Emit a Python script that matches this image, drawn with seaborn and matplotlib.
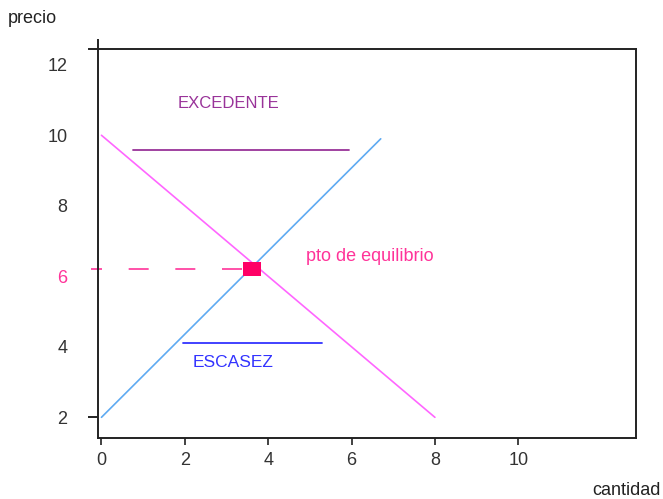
import numpy as np
import pandas as pd
import matplotlib
matplotlib.use("Agg")
import matplotlib.pyplot as plt
import seaborn as sns

# curve data
oferta_x = [0, 6.7]
oferta_y = [2, 9.9]
demanda_x = [0, 8]
demanda_y = [10, 2]
equilibrio_x = [3.62]
equilibrio_y = [6.2]
excedente_x = [0.75, 5.95]
excedente_y = [9.57, 9.57]
escasez_x = [1.95, 5.3]
escasez_y = [4.12, 4.12]
xticks = [0, 2, 4, 6, 8, 10]
yticks = [2, 4, 6, 8, 10, 12]

sns.set_style("white")
plt.rcParams['font.family'] = ['Liberation Sans', 'DejaVu Sans']

fig = plt.figure(figsize=(6.63, 4.99), dpi=100)
ax = fig.add_axes([0.148, 0.122, 0.811, 0.780])

df_of = pd.DataFrame({"x": oferta_x, "y": oferta_y})
df_de = pd.DataFrame({"x": demanda_x, "y": demanda_y})
sns.lineplot(data=df_of, x="x", y="y", ax=ax, color="#5eaaf2", linewidth=1.2)
sns.lineplot(data=df_de, x="x", y="y", ax=ax, color="#ff66ff", linewidth=1.2)

sns.lineplot(x=excedente_x, y=excedente_y, ax=ax, color="#993399", linewidth=1.3)
sns.lineplot(x=escasez_x, y=escasez_y, ax=ax, color="#3333ff", linewidth=1.3)

# dashed price line to the equilibrium
ax.plot([-0.25, equilibrio_x[0]], [equilibrio_y[0], equilibrio_y[0]],
        color="#ff3399", linewidth=1.2, linestyle=(5.4, (12, 16)), clip_on=False)
rect = [(-1.25, -1), (1.25, -1), (1.25, 1), (-1.25, 1), (-1.25, -1)]
sns.scatterplot(x=equilibrio_x, y=equilibrio_y, ax=ax, marker=rect, s=170,
                color="#ff0066", edgecolor="#ff0066", linewidth=0, zorder=5)

ax.text(3.05, 10.9, "EXCEDENTE", color="#993399", fontsize=12, ha="center", va="center")
ax.text(3.15, 3.55, "ESCASEZ", color="#3333ff", fontsize=12.5, ha="center", va="center")
ax.text(4.9, 6.57, "pto de equilibrio", color="#ff3399", fontsize=13, ha="left", va="center")

ax.set_xlim(-0.08, 12.82)
ax.set_ylim(1.41, 12.45)
ax.set_xticks(xticks)
ax.set_yticks(yticks)
ax.tick_params(axis="x", direction="out", length=5, width=1.3, pad=5, labelsize=13,
               colors="#333333", bottom=True)
ax.tick_params(axis="y", direction="out", length=7, width=1.4, pad=15, labelsize=13,
               color="#222222", labelcolor="#333333", left=True)
ax.get_yticklabels()[2].set_color("#ff3399")

for s in ax.spines.values():
    s.set_visible(True)
    s.set_color("#222222")
    s.set_linewidth(1.4)
ax.spines["left"].set_bounds(1.41, 12.7)
ax.spines["top"].set_bounds(-0.3, 12.82)

ax.set_xlabel("")
ax.set_ylabel("")
fig.text(0.012, 0.962, "precio", fontsize=13, color="#222222", ha="left", va="center")
fig.text(0.997, 0.018, "cantidad", fontsize=13, color="#222222", ha="right", va="center")

# only the lowest price tick keeps its mark
for t in ax.yaxis.get_major_ticks():
    t.tick1line.set_visible(t.get_loc() == yticks[0])

fig.savefig("out.png", dpi=100, facecolor="white")
